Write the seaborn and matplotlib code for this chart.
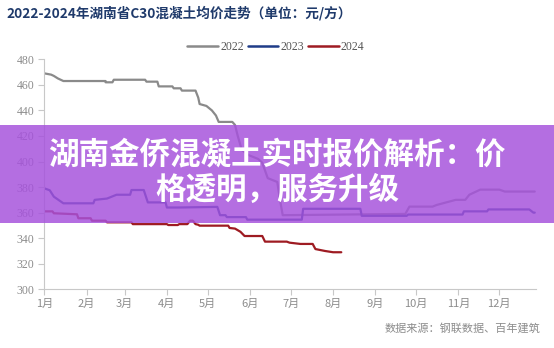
import matplotlib
matplotlib.use("Agg")
import matplotlib.pyplot as plt
import seaborn as sns
import pandas as pd
from matplotlib.patches import Rectangle
from matplotlib.lines import Line2D

# ---- data (day of year, price in 元/方) ----
days_2022 = [0, 5, 7, 10, 14, 45, 45, 50, 51, 74, 75, 83, 84, 94, 95, 100, 101, 111, 113, 114, 119, 123, 126, 128, 138, 140, 142, 145, 150, 157, 160, 164, 171, 173, 175, 265, 268, 285, 288, 302, 309, 312, 320, 334, 338, 360]
vals_2022 = [469, 468, 467, 465, 463, 463, 462, 462, 464, 464, 462.5, 462.5, 458.8, 458.8, 457.3, 457.3, 455.5, 455.5, 450, 445, 443.5, 440, 436, 431, 431, 428.6, 420, 409, 405, 402, 399, 387, 384, 370, 358, 359, 364.7, 364.7, 366, 370, 370, 374, 378, 378, 376.5, 376.5]

days_2023 = [0, 4, 7, 14, 36, 37, 46, 53, 63, 64, 73, 76, 89, 90, 98, 127, 129, 133, 134, 148, 149, 189, 190, 232, 233, 266, 267, 307, 308, 325, 326, 356, 359, 360]
vals_2023 = [379, 377.5, 372.5, 367.3, 367.3, 370, 371, 374, 374, 377.7, 377.7, 368, 368, 364, 364, 364.5, 358, 358, 356.5, 356.5, 354.5, 354.5, 363, 363, 357.5, 357.5, 358.5, 358.5, 361, 361, 362.5, 362.5, 360, 360]

days_2024 = [0, 6, 7, 24, 25, 34, 35, 45, 46, 64, 65, 90, 91, 98, 99, 105, 107, 109, 111, 113, 114, 135, 136, 140, 144, 147, 160, 162, 178, 180, 188, 197, 199, 206, 212, 218]
vals_2024 = [361, 361, 359.5, 358.7, 355.6, 355.6, 353.7, 353.7, 352.4, 352.4, 351, 351, 350.3, 350.3, 351, 351, 353.7, 353.7, 351, 350.5, 349.8, 349.8, 348, 347.5, 345, 341.7, 341.7, 337.3, 337.3, 336.5, 335.5, 335.5, 331.5, 330, 329, 329]

years = ["2022", "2023", "2024"]
colors = ["#8a8a8a", "#1f3c88", "#9e1b22"]
month_starts = [0, 31, 59, 90, 120, 151, 181, 212, 243, 273, 304, 334]
month_labels = ["1月", "2月", "3月", "4月", "5月", "6月", "7月", "8月", "9月", "10月", "11月", "12月"]
y_ticks = [300, 320, 340, 360, 380, 400, 420, 440, 460, 480]

title_text = "2022-2024年湖南省C30混凝土均价走势（单位：元/方）"
banner_line1 = "湖南金侨混凝土实时报价解析：价"
banner_line2 = "格透明，服务升级"
source_text = "数据来源：钢联数据、百年建筑"

df = pd.concat([
    pd.DataFrame({"day": days_2022, "price": vals_2022, "year": "2022"}),
    pd.DataFrame({"day": days_2023, "price": vals_2023, "year": "2023"}),
    pd.DataFrame({"day": days_2024, "price": vals_2024, "year": "2024"}),
], ignore_index=True)

sns.set_theme(style="white")
plt.rcParams["font.family"] = ["Noto Sans CJK SC", "DejaVu Sans"]

fig = plt.figure(figsize=(5.54, 3.48), dpi=100)
ax = fig.add_axes([44.3 / 554, 1 - 289.3 / 348, (535.7 - 44.3) / 554, (289.3 - 59.3) / 348])

sns.lineplot(data=df, x="day", y="price", hue="year", palette=dict(zip(years, colors)),
             estimator=None, sort=False, linewidth=1.6, legend=False, ax=ax)

ax.set_xlim(0, 360.7)
ax.set_ylim(300, 480)
ax.set_xticks(month_starts)
ax.set_xticklabels(month_labels, fontsize=8, color="#8c8c8c")
ax.set_yticks(y_ticks)
ax.set_yticklabels([str(v) for v in y_ticks], fontsize=8.5, color="#8c8c8c", family="Liberation Serif")
ax.tick_params(axis="both", which="major", length=4, width=0.8, color="#c8c8c8", direction="out", bottom=True, left=True, pad=3)
ax.set_xlabel("")
ax.set_ylabel("")
for s in ["top", "right"]:
    ax.spines[s].set_visible(False)
for s in ["left", "bottom"]:
    ax.spines[s].set_color("#c8c8c8")
    ax.spines[s].set_linewidth(0.8)
ax.grid(False)

handles = [Line2D([], [], color=c, linewidth=1.8) for c in colors]
leg = fig.legend(handles, years, loc="center", bbox_to_anchor=(276 / 554, 1 - 47 / 348), ncol=3, frameon=False,
                 handlelength=2.6, handletextpad=0.2, columnspacing=0.3, prop={"family": "Liberation Serif", "size": 8.5})
for t in leg.get_texts():
    t.set_color("#555555")

fig.text(6 / 554, 1 - 13 / 348, title_text, fontsize=9.8, fontweight="bold", color="#1f3a6b", ha="left", va="center")
fig.text(540 / 554, 1 - 328 / 348, source_text, fontsize=8, color="#8c8c8c", ha="right", va="center")

band = Rectangle((0, 1 - 222.7 / 348), 1, (222.7 - 125) / 348, transform=fig.transFigure,
                 facecolor="#a652dc", alpha=0.84, edgecolor="none", zorder=10)
fig.patches.append(band)
fig.text(0.5, 1 - 154 / 348, banner_line1, fontsize=22, fontweight="heavy", color="white", ha="center", va="center", zorder=11)
fig.text(0.5, 1 - 190 / 348, banner_line2, fontsize=22, fontweight="heavy", color="white", ha="center", va="center", zorder=11)

fig.savefig("out.png", dpi=100)
